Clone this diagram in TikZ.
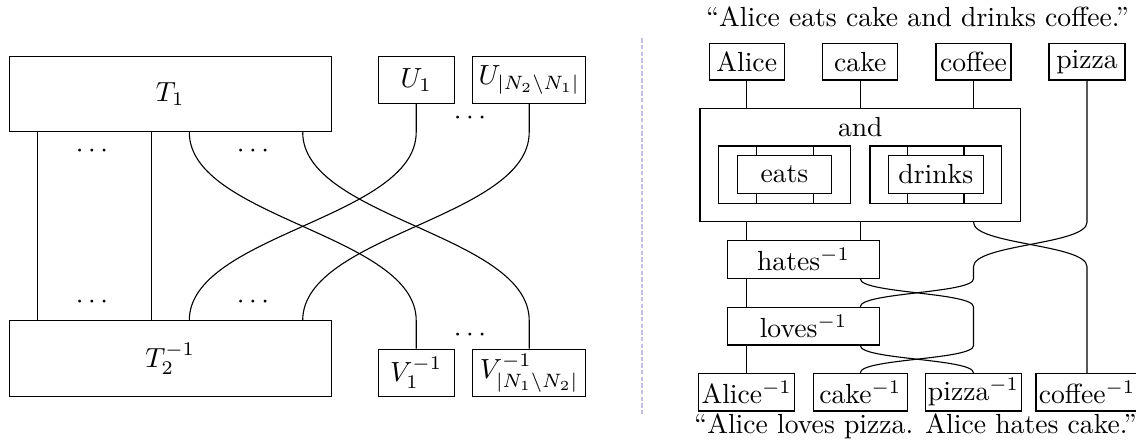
\documentclass[tikz,border=0pt]{standalone}
\definecolor{sepcol}{RGB}{198,190,228}
\def\u{0.3617pt}
\begin{document}
\begin{tikzpicture}[x=0.3617pt, y=-0.3617pt,
  box/.style={draw, rectangle, inner sep=1pt, line width=0.4pt},
  sz/.style 2 args={minimum width=#1*\u, minimum height=#2*\u},
  wire/.style={line width=0.4pt},
  sep/.style={draw=sepcol, line width=0.6pt, dash pattern=on 1.6pt off 0.8pt},
  dots/.style={inner sep=0pt},
]
\useasboundingbox (0,0) rectangle (1136,448);

% ---------------- left diagram ----------------
\node[box, sz={321.7}{75}]   (T1) at (170.2,94.2)  {$T_1$};
\node[box, sz={75.7}{46.6}]  (U1) at (416.2,80)    {$U_1$};
\node[box, sz={113}{46.6}]   (U2) at (529.2,80)    {$U_{|N_2\setminus N_1|}$};
\node[box, sz={321.7}{75.7}] (T2) at (170.2,358.8) {$T_2^{-1}$};
\node[box, sz={75.7}{47.4}]  (V1) at (416.2,373)   {$V_1^{-1}$};
\node[box, sz={113}{47.4}]   (V2) at (529.2,373)   {$V_{|N_1\setminus N_2|}^{-1}$};

\coordinate (a1) at (37.7,0);
\coordinate (a2) at (151.7,0);
\coordinate (a3) at (189.3,0);
\coordinate (a4) at (302.7,0);

\draw[wire] (T1.south -| a1) -- (T2.north -| a1);
\draw[wire] (T1.south -| a2) -- (T2.north -| a2);
\draw[wire] (T1.south -| a3) .. controls +(0,86) and +(0,-86) .. (T2.north -| V1.north) -- (V1.north);
\draw[wire] (T1.south -| a4) .. controls +(0,86) and +(0,-86) .. (T2.north -| V2.north) -- (V2.north);
\draw[wire] (U1.south) -- (T1.south -| U1.south) .. controls +(0,86) and +(0,-86) .. (T2.north -| a3);
\draw[wire] (U2.south) -- (T1.south -| U2.south) .. controls +(0,86) and +(0,-86) .. (T2.north -| a4);

\node[dots] (d1) at (92,151.7)  {$\cdots$};
\node[dots] (d2) at (253,151.7) {$\cdots$};
\node[dots] (d3) at (92,302.5)  {$\cdots$};
\node[dots] (d4) at (253,302.5) {$\cdots$};
\node[dots] (d5) at (470,118)   {$\cdots$};
\node[dots] (d6) at (470,335)   {$\cdots$};

% separator
\coordinate (s1) at (642.3,38.3);
\coordinate (s2) at (642.3,415);
\draw[sep] (s1) -- (s2);

% ---------------- right diagram ----------------
\node[anchor=base] (title1) at (917.5,27) {``Alice eats cake and drinks coffee.''};

\node[box, sz={75}{36.7}] (aliceT)  at (746.7,61.7)  {Alice};
\node[box, sz={75}{36.7}] (cakeT)   at (860.3,61.7)  {cake};
\node[box, sz={75}{36.7}] (coffeeT) at (973.5,61.7)  {coffee};
\node[box, sz={76}{36.7}] (pizzaT)  at (1087,61.7)   {pizza};

\node[box, sz={320.7}{113.4}] (and) at (860.3,165) {};
\node[anchor=base] (andl) at (860.3,137) {and};

\node[box, sz={132.4}{57.3}] (eatsO)   at (784.5,174.7) {};
\node[box, sz={94.4}{38}]    (eats)    at (784.5,174.3) {eats};
\node[box, sz={131.7}{57.3}] (drinksO) at (935.8,174.7) {};
\node[box, sz={95}{38}]      (drinks)  at (935.8,174.3) {drinks};

\coordinate (e1) at (756.7,0);
\coordinate (e2) at (813.3,0);
\coordinate (r1) at (907.7,0);
\coordinate (r2) at (964,0);
\foreach \c/\o/\i in {e1/eatsO/eats, e2/eatsO/eats, r1/drinksO/drinks, r2/drinksO/drinks}{
  \draw[wire] (\o.north -| \c) -- (\i.north -| \c);
  \draw[wire] (\i.south -| \c) -- (\o.south -| \c);
}

\node[box, sz={151.6}{37.6}] (hates) at (803.5,259.5) {hates$^{-1}$};
\node[box, sz={151.6}{37.7}] (loves) at (803.5,326.2) {loves$^{-1}$};

\node[box, sz={94.5}{37.7}] (aliceB)  at (746.7,392.2) {Alice$^{-1}$};
\node[box, sz={94.5}{37.7}] (cakeB)   at (860.3,392.2) {cake$^{-1}$};
\node[box, sz={94.5}{37.7}] (pizzaB)  at (973.5,392.2) {pizza$^{-1}$};
\node[box, sz={93.5}{37.7}] (coffeeB) at (1087,392.2)  {coffee$^{-1}$};

\node[anchor=base] (title2) at (915.5,434) {``Alice loves pizza. Alice hates cake.''};

% wires into the "and" box
\draw[wire] (aliceT.south)  -- (and.north -| aliceT.south);
\draw[wire] (cakeT.south)   -- (and.north -| cakeT.south);
\draw[wire] (coffeeT.south) -- (and.north -| coffeeT.south);

% Alice wire
\draw[wire] (and.south -| aliceT.south) -- (hates.north -| aliceT.south);
\draw[wire] (hates.south -| aliceT.south) -- (loves.north -| aliceT.south);
\draw[wire] (loves.south -| aliceT.south) -- (aliceB.north);

% cake wire
\draw[wire] (and.south -| cakeT.south) -- (hates.north -| cakeT.south);

\coordinate (yc) at (0,266.7);
% coffee wire: crosses pizza
\draw[wire] (and.south -| coffeeT.south) .. controls +(0,22.5) and +(0,-22.5) .. (coffeeB.north |- yc) -- (coffeeB.north);
% pizza wire
\draw[wire] (pizzaT.south) -- (and.south -| pizzaT.south) .. controls +(0,22.5) and +(0,-22.5) .. (pizzaB.north |- yc)
  -- (hates.south -| pizzaB.north) .. controls +(0,14.5) and +(0,-14.5) .. (loves.north -| cakeT.south);
% hates -> cake^{-1}
\draw[wire] (hates.south -| cakeT.south) .. controls +(0,14.5) and +(0,-14.5) .. (loves.north -| pizzaB.north)
  -- (loves.south -| pizzaB.north) .. controls +(0,14.2) and +(0,-14.2) .. (cakeB.north);
% loves -> pizza^{-1}
\draw[wire] (loves.south -| cakeT.south) .. controls +(0,14.2) and +(0,-14.2) .. (pizzaB.north);
\end{tikzpicture}
\end{document}
